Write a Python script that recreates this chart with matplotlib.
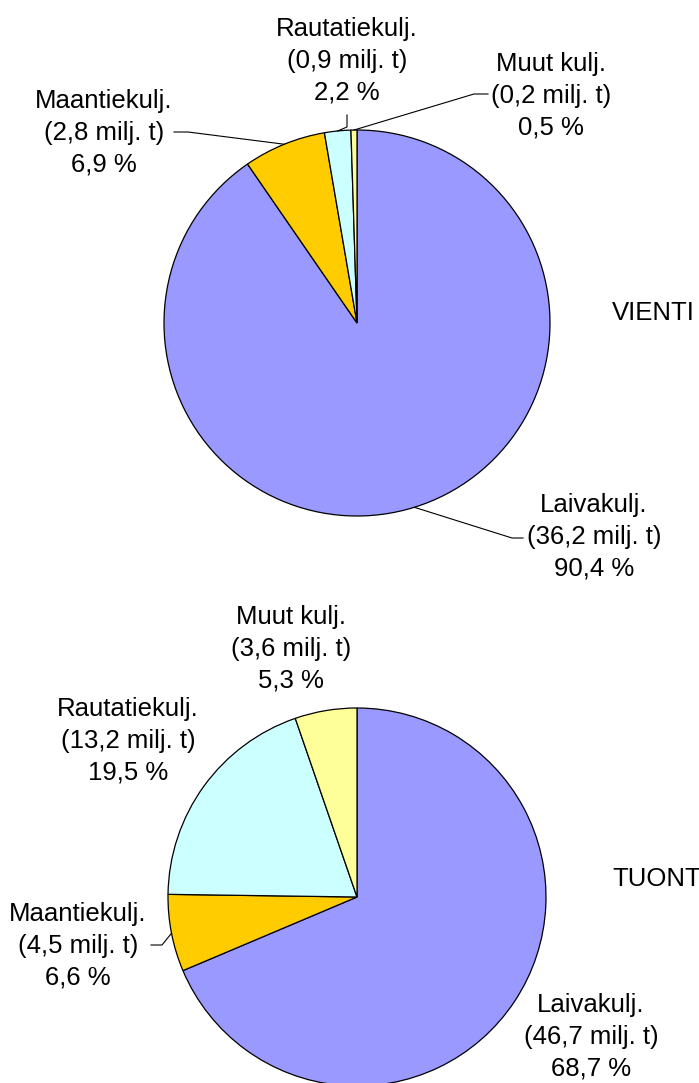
import numpy as np
import matplotlib
matplotlib.use("Agg")
import matplotlib.pyplot as plt

# ---- data ----
categories = ['Laivakulj.', 'Maantiekulj.', 'Rautatiekulj.', 'Muut kulj.']
vienti_mt = [36.2, 2.8, 0.9, 0.2]
vienti_pct = [90.4, 6.9, 2.2, 0.5]
tuonti_mt = [46.7, 4.5, 13.2, 3.6]
tuonti_pct = [68.7, 6.6, 19.5, 5.3]
colors = ['#9999FF', '#FFCC00', '#CCFFFF', '#FFFF99']
titles = ['VIENTI', 'TUONTI']

W, H = 699, 1083
plt.rcParams['font.family'] = ['Liberation Sans', 'DejaVu Sans']

fig = plt.figure(figsize=(W / 100, H / 100), dpi=100)
ax = fig.add_axes([0, 0, 1, 1])


def Y(y):
    return H - y


def fmt(v):
    return f"{v:.1f}".replace('.', ',')


def label_text(cat, mt, pct):
    return f"{cat}\n({fmt(mt)} milj. t)\n{fmt(pct)} %"


# layout: pie centres / radii (pixels), label centres, leader elbows
pies = [
    dict(center=(357, 323), r=193, title_xy=(612, 313),
         labels=[(594, 537), (104, 133), (347, 61), (551, 96)],
         leaders=[[(523, 538), (512, 538)], [(174, 132), (188, 132)],
                  [(347, 115), (347, 127)], [(488, 94), (474, 94)]]),
    dict(center=(357, 897), r=189, title_xy=(612, 879),
         labels=[(591, 1037), (78, 946), (128, 741), (291, 649)],
         leaders=[None, [(151, 945), (162, 945)], None, None]),
]
data = [(vienti_mt, vienti_pct), (tuonti_mt, tuonti_pct)]

for p, (mt, pct), title in zip(pies, data, titles):
    cx, cy = p['center']
    wedges, _ = ax.pie(pct, colors=colors, startangle=90, counterclock=False,
                       center=(cx, Y(cy)), radius=p['r'], normalize=True,
                       wedgeprops=dict(edgecolor='black', linewidth=0.9),
                       frame=True)
    for i, w in enumerate(wedges):
        lx, ly = p['labels'][i]
        ax.text(lx, Y(ly), label_text(categories[i], mt[i], pct[i]),
                ha='center', va='center', multialignment='center',
                fontsize=18.5, linespacing=1.4, color='black')
        ld = p['leaders'][i]
        if ld is not None:
            mid = np.deg2rad((w.theta1 + w.theta2) / 2)
            ex = cx + p['r'] * np.cos(mid)
            ey = Y(cy) + p['r'] * np.sin(mid)
            xs = [ld[0][0], ld[1][0], ex]
            ys = [Y(ld[0][1]), Y(ld[1][1]), ey]
            ax.plot(xs, ys, color='black', linewidth=0.8)
    tx, ty = p['title_xy']
    ax.text(tx, Y(ty), title, ha='left', va='center', fontsize=18.5,
            color='black', clip_on=False)

ax.set_xlim(0, W)
ax.set_ylim(0, H)
ax.set_aspect('equal')
ax.axis('off')
fig.savefig('out.png', dpi=100)
